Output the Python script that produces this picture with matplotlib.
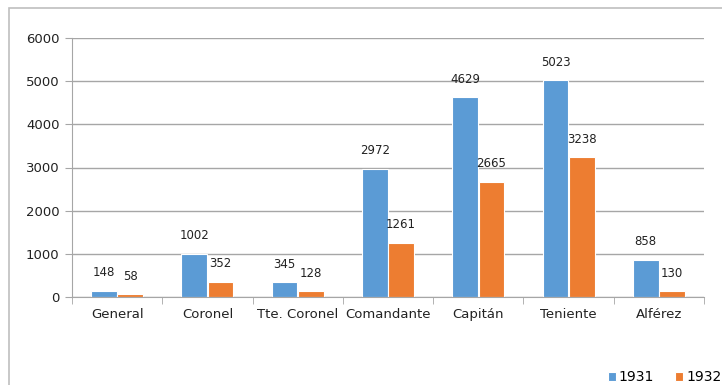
import matplotlib
matplotlib.use('Agg')
import matplotlib.pyplot as plt
import numpy as np
from matplotlib.patches import Rectangle

categories = ['General', 'Coronel', 'Tte. Coronel', 'Comandante', 'Capitán', 'Teniente', 'Alférez']
v1931 = [148, 1002, 345, 2972, 4629, 5023, 858]
v1932 = [58, 352, 128, 1261, 2665, 3238, 130]
yticks = [0, 1000, 2000, 3000, 4000, 5000, 6000]

blue = '#5B9BD5'
orange = '#ED7D31'
grey = '#A6A6A6'

fig = plt.figure(figsize=(7.22, 3.85), dpi=100)
ax = fig.add_axes([72/722, 1 - 297/385, 632/722, 259/385])

# outer frame of the chart area
fig.patches.append(Rectangle((9/722, -0.1), 1.2, 1 - 8/385 + 0.1, transform=fig.transFigure,
                             fill=False, edgecolor='#BFBFBF', lw=1.2))

x = np.arange(len(categories))
w = 0.285
b1 = ax.bar(x - 0.145, v1931, w, color=blue, edgecolor='white', lw=0.8, label='1931')
b2 = ax.bar(x + 0.145, v1932, w, color=orange, edgecolor='white', lw=0.8, label='1932')

for bars, vals in ((b1, v1931), (b2, v1932)):
    for r, v in zip(bars, vals):
        ax.annotate(str(v), (r.get_x() + r.get_width() / 2, v), xytext=(0, 13),
                    textcoords='offset points', ha='center', va='center',
                    fontsize=8.5, color='#222222')

ax.set_xlim(-0.5, len(categories) - 0.5)
ax.set_ylim(0, 6000)
ax.set_yticks(yticks)
ax.set_xticks(x)
ax.set_xticklabels(categories)
ax.set_xticks(np.arange(len(categories) + 1) - 0.5, minor=True)
ax.tick_params(axis='x', which='major', length=0, pad=8, labelsize=9.5, colors='#222222')
ax.tick_params(axis='x', which='minor', length=5, color=grey)
ax.tick_params(axis='y', length=5, color=grey, labelsize=9.5, labelcolor='#222222', pad=4)
ax.yaxis.grid(True, color=grey, lw=1)
ax.set_axisbelow(True)
for s in ('top', 'right'):
    ax.spines[s].set_visible(False)
for s in ('left', 'bottom'):
    ax.spines[s].set_color(grey)

fig.legend(handles=[b1, b2], loc='lower left', bbox_to_anchor=(602/722, -0.012), ncol=2,
           frameon=False, fontsize=10, handlelength=0.6, handleheight=0.6,
           handletextpad=0.2, columnspacing=1.5, borderaxespad=0)

fig.savefig('out.png', dpi=100)
